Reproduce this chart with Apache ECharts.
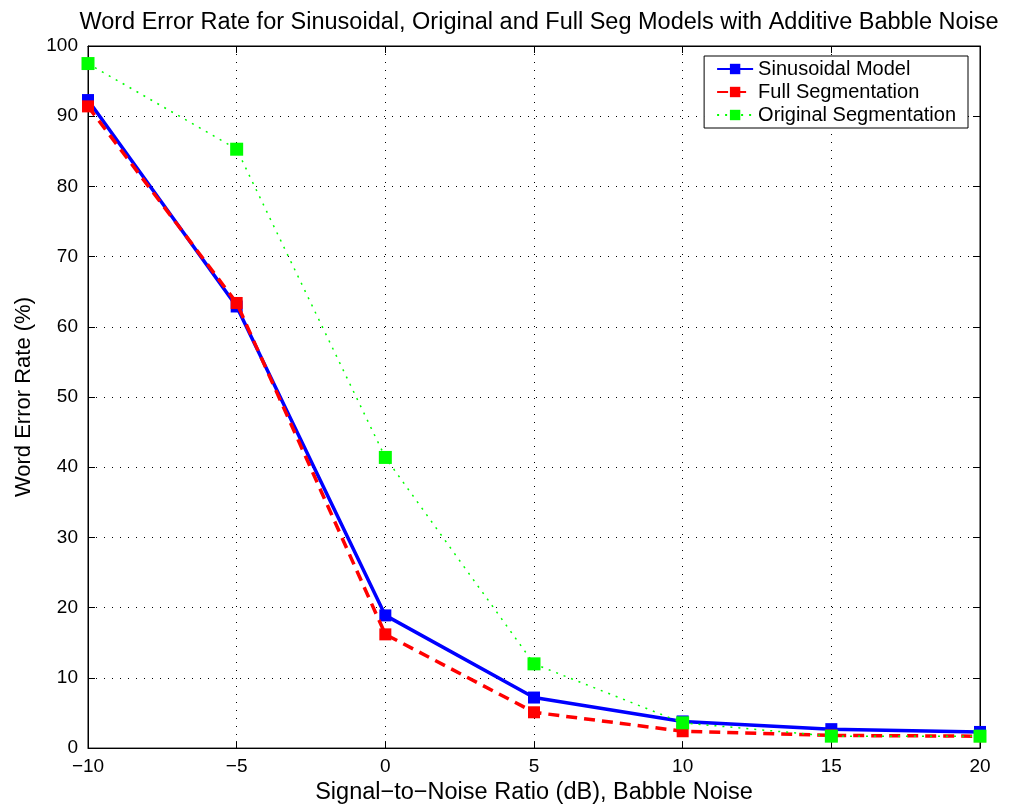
<!DOCTYPE html>
<html>
<head>
<meta charset="utf-8">
<script src="https://cdn.jsdelivr.net/npm/echarts@6/dist/echarts.min.js"></script>
<style>html,body{margin:0;padding:0;background:#fff}#c{width:1010px;height:810px}</style>
</head>
<body>
<div id="c"></div>
<script>
const snr = [-10, -5, 0, 5, 10, 15, 20];
const sinusoidal = [92.3, 62.9, 18.9, 7.2, 3.8, 2.7, 2.3];
const fullSeg = [91.4, 63.4, 16.2, 5.1, 2.4, 1.8, 1.7];
const origSeg = [97.5, 85.3, 41.4, 12.0, 3.6, 1.7, 1.7];
const seriesNames = ['Sinusoidal Model', 'Full Segmentation', 'Original Segmentation'];

const pair = (vals) => snr.map((x, i) => [x, vals[i]]);
const FONT = '"Liberation Sans", Arial, Helvetica, sans-serif';
const minusFmt = v => String(v).replace('-', '\u2212');
const dotted = { show: true, lineStyle: { color: '#000', type: [1, 7], width: 1 } };

const chart = echarts.init(document.getElementById('c'));
chart.setOption({
  animation: false,
  backgroundColor: '#fff',
  title: {
    text: 'Word Error Rate for Sinusoidal, Original and Full Seg Models with Additive Babble Noise',
    left: 534, top: 6, textAlign: 'center',
    textStyle: { fontFamily: FONT, fontSize: 23.5, fontWeight: 'normal', color: '#000' }
  },
  legend: {
    orient: 'vertical', right: 42, top: 56,
    backgroundColor: '#fff', borderColor: '#000', borderWidth: 1,
    padding: [3, 12, 3, 12], itemGap: 3, itemWidth: 36, itemHeight: 13,
    textStyle: { fontFamily: FONT, fontSize: 20, color: '#000' },
    data: seriesNames
  },
  grid: { left: 88, right: 30, top: 46, bottom: 61, show: true, borderColor: '#000', borderWidth: 1 },
  xAxis: [{
    type: 'value', min: -10, max: 20, interval: 5,
    name: 'Signal\u2212to\u2212Noise Ratio (dB), Babble Noise', nameLocation: 'middle', nameGap: 30,
    nameTextStyle: { fontFamily: FONT, fontSize: 23.5, color: '#000' },
    axisLine: { onZero: false, lineStyle: { color: '#000' } },
    axisTick: { inside: true, length: 7, lineStyle: { color: '#000' } },
    axisLabel: { fontFamily: FONT, fontSize: 19, color: '#000', margin: 9, formatter: minusFmt },
    splitLine: dotted
  }, {
    type: 'value', min: -10, max: 20, interval: 5, position: 'top',
    axisLine: { onZero: false, lineStyle: { color: '#000' } },
    axisTick: { inside: true, length: 7, lineStyle: { color: '#000' } },
    axisLabel: { show: false }, splitLine: { show: false }
  }],
  yAxis: [{
    type: 'value', min: 0, max: 100, interval: 10,
    name: 'Word Error Rate (%)', nameLocation: 'middle', nameGap: 53,
    nameTextStyle: { fontFamily: FONT, fontSize: 22, color: '#000' },
    axisLine: { show: true, onZero: false, lineStyle: { color: '#000' } },
    axisTick: { show: true, inside: true, length: 7, lineStyle: { color: '#000' } },
    axisLabel: { fontFamily: FONT, fontSize: 19, color: '#000', margin: 10 },
    splitLine: dotted
  }, {
    type: 'value', min: 0, max: 100, interval: 10, position: 'right',
    axisLine: { show: true, onZero: false, lineStyle: { color: '#000' } },
    axisTick: { show: true, inside: true, length: 7, lineStyle: { color: '#000' } },
    axisLabel: { show: false }, splitLine: { show: false }
  }],
  series: [
    {
      name: seriesNames[0], type: 'line', data: pair(sinusoidal),
      symbol: 'rect', symbolSize: 12, itemStyle: { color: '#0000ff' },
      lineStyle: { color: '#0000ff', width: 3.5 }, z: 3
    },
    {
      name: seriesNames[1], type: 'line', data: pair(fullSeg),
      symbol: 'rect', symbolSize: 12, itemStyle: { color: '#ff0000' },
      lineStyle: { color: '#ff0000', width: 3.5, type: [11, 7] }, z: 4
    },
    {
      name: seriesNames[2], type: 'line', data: pair(origSeg),
      symbol: 'rect', symbolSize: 13, itemStyle: { color: '#00ff00' },
      lineStyle: { color: '#00ff00', width: 1.5, type: [2, 6] }, z: 5
    }
  ]
});
</script>
</body>
</html>
